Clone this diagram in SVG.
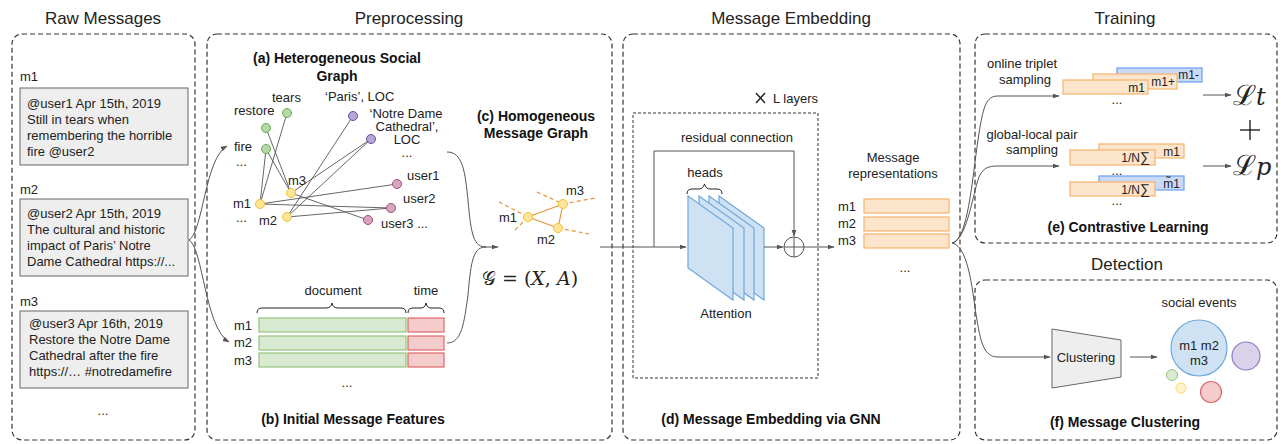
<svg xmlns="http://www.w3.org/2000/svg" width="1281" height="444" viewBox="0 0 1281 444">
<defs>
<marker id="ah" viewBox="0 0 10 10" refX="9" refY="5" markerWidth="7" markerHeight="7" orient="auto" markerUnits="userSpaceOnUse">
<path d="M0,1.5 L10,5 L0,8.5 z" fill="#555"/>
</marker>
<style>
text{font-family:"Liberation Sans",Arial,sans-serif;fill:#222;}
.h{font-size:17px;text-anchor:middle;}
.t{font-size:13px;}
.c{font-size:13px;text-anchor:middle;}
.s{font-size:12px;}
.b{font-size:14px;font-weight:bold;text-anchor:middle;fill:#111;}
.panel{fill:none;stroke:#333;stroke-width:1.2;stroke-dasharray:5,3;}
.msg{fill:#eeeeee;stroke:#666;stroke-width:1;}
.con{fill:none;stroke:#555;stroke-width:1;}
.arr{fill:none;stroke:#555;stroke-width:1;marker-end:url(#ah);}
.e{stroke:#555;stroke-width:0.9;}
.ng{fill:#b6d7a8;stroke:#6aa84f;stroke-width:1;}
.np{fill:#b4a7d6;stroke:#674ea7;stroke-width:1;}
.ny{fill:#ffe599;stroke:#f1c232;stroke-width:1;}
.nk{fill:#d5a6bd;stroke:#a64d79;stroke-width:1;}
.doc{fill:#d9ead3;stroke:#93c47d;stroke-width:1.2;}
.tim{fill:#f4cccc;stroke:#e06666;stroke-width:1.2;}
.rep{fill:#fce5cd;stroke:#f6b26b;stroke-width:1.2;}
.blu{fill:#c9daf8;stroke:#6d9eeb;stroke-width:1.2;}
.slab{fill:#cfe2f3;stroke:#6fa8dc;stroke-width:1.2;}
.brace{fill:none;stroke:#222;stroke-width:1;}
.oe{stroke:#e69138;stroke-width:1.2;}
.od{stroke:#e69138;stroke-width:1.2;stroke-dasharray:4,3;}
.m{font-family:"DejaVu Serif","Liberation Serif",serif;}
</style>
</defs>

<!-- section titles -->
<g id="titles">
<text class="h" x="103" y="24">Raw Messages</text>
<text class="h" x="409" y="24">Preprocessing</text>
<text class="h" x="791" y="24">Message Embedding</text>
<text class="h" x="1125" y="24">Training</text>
<text class="h" x="1127" y="270">Detection</text>
</g>

<!-- panels -->
<g id="panels">
<rect class="panel" x="12" y="34" width="183" height="406" rx="10"/>
<rect class="panel" x="207" y="34" width="405" height="406" rx="10"/>
<rect class="panel" x="623" y="34" width="337" height="406" rx="10"/>
<rect class="panel" x="975" y="34" width="302" height="209" rx="10"/>
<rect class="panel" x="975" y="280" width="302" height="160" rx="10"/>
</g>

<!-- raw messages -->
<g id="raw-m1">
<text class="t" x="20" y="81">m1</text>
<rect class="msg" x="20" y="88" width="168" height="77"/>
<text class="t" x="27" y="108">@user1 Apr 15th, 2019</text>
<text class="t" x="27" y="124">Still in tears when</text>
<text class="t" x="27" y="140">remembering the horrible</text>
<text class="t" x="27" y="156">fire @user2</text>
</g>
<g id="raw-m2">
<text class="t" x="20" y="194">m2</text>
<rect class="msg" x="20" y="199" width="168" height="77"/>
<text class="t" x="27" y="218">@user2 Apr 15th, 2019</text>
<text class="t" x="27" y="234">The cultural and historic</text>
<text class="t" x="27" y="250">impact of Paris’ Notre</text>
<text class="t" x="27" y="266">Dame Cathedral https://...</text>
</g>
<g id="raw-m3">
<text class="t" x="20" y="306">m3</text>
<rect class="msg" x="20" y="311" width="168" height="77"/>
<text class="t" x="29" y="328">@user3 Apr 16th, 2019</text>
<text class="t" x="29" y="344">Restore the Notre Dame</text>
<text class="t" x="29" y="360">Cathedral after the fire</text>
<text class="t" x="29" y="376">https://…  #notredamefire</text>
<text class="c" x="103" y="415">...</text>
</g>

<!-- heterogeneous social graph -->
<g id="hetero-graph">
<text class="b" x="337" y="63" font-size="14.5">(a) Heterogeneous Social</text>
<text class="b" x="337" y="81" font-size="14.5">Graph</text>
<line class="e" x1="287" y1="113" x2="260" y2="204"/>
<line class="e" x1="266" y1="128" x2="291" y2="193"/>
<line class="e" x1="266" y1="149" x2="260" y2="204"/>
<line class="e" x1="266" y1="149" x2="291" y2="193"/>
<line class="e" x1="353" y1="116" x2="287" y2="217"/>
<line class="e" x1="371" y1="139" x2="291" y2="193"/>
<line class="e" x1="371" y1="139" x2="287" y2="217"/>
<line class="e" x1="260" y1="204" x2="397" y2="184"/>
<line class="e" x1="260" y1="204" x2="391" y2="208"/>
<line class="e" x1="287" y1="217" x2="391" y2="208"/>
<line class="e" x1="291" y1="193" x2="368" y2="220"/>
<circle class="ng" cx="287" cy="113" r="4.5"/>
<circle class="ng" cx="266" cy="128" r="4.5"/>
<circle class="ng" cx="266" cy="149" r="4.5"/>
<circle class="np" cx="353" cy="116" r="4.5"/>
<circle class="np" cx="371" cy="139" r="4.5"/>
<circle class="ny" cx="291" cy="193" r="4.5"/>
<circle class="ny" cx="260" cy="204" r="4.5"/>
<circle class="ny" cx="287" cy="217" r="4.5"/>
<circle class="nk" cx="397" cy="184" r="4.5"/>
<circle class="nk" cx="391" cy="208" r="4.5"/>
<circle class="nk" cx="368" cy="220" r="4.5"/>
<text class="t" x="272" y="102">tears</text>
<text class="t" x="234" y="115">restore</text>
<text class="t" x="325" y="101">‘Paris’, LOC</text>
<text class="c" x="406" y="118">‘Notre Dame</text>
<text class="c" x="407" y="131">Cathedral’,</text>
<text class="c" x="407" y="144">LOC</text>
<text class="c" x="407" y="157">...</text>
<text class="t" x="234" y="151">fire</text>
<text class="t" x="236" y="166">...</text>
<text class="t" x="288" y="185">m3</text>
<text class="t" x="233" y="208">m1</text>
<text class="t" x="236" y="222">...</text>
<text class="t" x="259" y="225">m2</text>
<text class="t" x="407" y="180">user1</text>
<text class="t" x="403" y="203">user2</text>
<text class="t" x="381" y="228">user3  ...</text>
</g>

<!-- initial message features -->
<g id="features">
<text class="c" x="333" y="295">document</text>
<text class="c" x="426" y="295">time</text>
<path class="brace" d="M257,313 Q257,308 262,308 L326,308 Q331,308 332,303 Q333,308 338,308 L401,308 Q406,308 406,313"/>
<path class="brace" d="M408,313 Q408,308 413,308 L421,308 Q425,308 426,303 Q427,308 431,308 L439,308 Q444,308 444,313"/>
<text class="t" x="234" y="330">m1</text>
<text class="t" x="234" y="347">m2</text>
<text class="t" x="234" y="365">m3</text>
<rect class="doc" x="259" y="318" width="147" height="14"/>
<rect class="doc" x="259" y="336" width="147" height="14"/>
<rect class="doc" x="259" y="353" width="147" height="14"/>
<rect class="tim" x="408" y="318" width="36" height="14"/>
<rect class="tim" x="408" y="336" width="36" height="14"/>
<rect class="tim" x="408" y="353" width="36" height="14"/>
<text class="c" x="347" y="387">...</text>
<text class="b" x="353" y="424">(b) Initial Message Features</text>
</g>

<!-- homogeneous message graph -->
<g id="homo-graph">
<text class="b" x="536" y="121">(c) Homogeneous</text>
<text class="b" x="536" y="138">Message Graph</text>
<line class="od" x1="499" y1="202" x2="528" y2="217"/>
<line class="od" x1="515" y1="230" x2="528" y2="217"/>
<line class="od" x1="537" y1="192" x2="563" y2="204"/>
<line class="od" x1="563" y1="204" x2="595" y2="198"/>
<line class="od" x1="558" y1="228" x2="589" y2="234"/>
<line class="oe" x1="528" y1="217" x2="563" y2="204"/>
<line class="oe" x1="528" y1="217" x2="558" y2="228"/>
<line class="oe" x1="563" y1="204" x2="558" y2="228"/>
<circle class="ny" cx="528" cy="217" r="4.5"/>
<circle class="ny" cx="563" cy="204" r="4.5"/>
<circle class="ny" cx="558" cy="228" r="4.5"/>
<text class="t" x="499" y="222">m1</text>
<text class="t" x="566" y="195">m3</text>
<text class="t" x="537" y="244">m2</text>
<text class="m" x="530" y="285" font-size="19" text-anchor="middle">𝒢 = (<tspan font-style="italic">X</tspan>, <tspan font-style="italic">A</tspan>)</text>
</g>

<!-- GNN embedding -->
<g id="gnn-layer">
<rect x="633" y="113" width="185" height="265" fill="none" stroke="#333" stroke-width="1" stroke-dasharray="3,2"/>
<path d="M756,93 L765,103 M765,93 L756,103" stroke="#222" stroke-width="1.4" fill="none"/>
<text class="t" x="773" y="103">L layers</text>
<text class="c" x="737" y="142">residual connection</text>
<text class="c" x="705" y="177">heads</text>
<path class="brace" d="M687,194 Q687,189 692,189 L699,189 Q703,189 704.5,184 Q706,189 710,189 L717,189 Q722,189 722,194"/>
<polygon class="slab" points="719,196 764,228 764,300 719,268"/>
<polygon class="slab" points="709,196 754,228 754,300 709,268"/>
<polygon class="slab" points="699,196 744,228 744,300 699,268"/>
<polygon class="slab" points="688,196 733,228 733,300 688,268"/>
<text class="c" x="726" y="318">Attention</text>
<circle cx="794" cy="247" r="10" fill="none" stroke="#555" stroke-width="1"/>
<line x1="784" y1="247" x2="804" y2="247" stroke="#555" stroke-width="1"/>
<line x1="794" y1="237" x2="794" y2="257" stroke="#555" stroke-width="1"/>
<text class="b" x="771" y="424">(d) Message Embedding via GNN</text>
</g>

<g id="message-representations">
<text class="c" x="893" y="162">Message</text>
<text class="c" x="893" y="178">representations</text>
<text class="t" x="838" y="211">m1</text>
<text class="t" x="838" y="228">m2</text>
<text class="t" x="838" y="245">m3</text>
<rect class="rep" x="864" y="199" width="85" height="14"/>
<rect class="rep" x="864" y="217" width="85" height="14"/>
<rect class="rep" x="864" y="234" width="85" height="14"/>
<text class="c" x="905" y="272">...</text>
</g>

<!-- contrastive learning -->
<g id="contrastive">
<text class="c" x="1022" y="68">online triplet</text>
<text class="c" x="1025" y="84">sampling</text>
<rect class="blu" x="1117" y="68" width="85" height="14"/>
<text class="s" x="1199" y="79" text-anchor="end">m1-</text>
<rect class="rep" x="1093" y="74" width="84" height="15"/>
<text class="s" x="1175" y="86" text-anchor="end">m1+</text>
<rect class="rep" x="1063" y="80" width="85" height="14"/>
<text class="s" x="1145" y="92" text-anchor="end">m1</text>
<text class="c" x="1117" y="104">...</text>

<text class="c" x="1032" y="139">global-local pair</text>
<text class="c" x="1032" y="154">sampling</text>
<rect class="rep" x="1099" y="144" width="85" height="14"/>
<text class="s" x="1180" y="156" text-anchor="end">m1</text>
<rect class="rep" x="1070" y="150" width="85" height="15"/>
<text class="s" x="1150" y="162" text-anchor="end">1/N<tspan font-size="14">∑</tspan></text>
<text class="c" x="1117" y="175">...</text>
<rect class="blu" x="1099" y="176" width="85" height="14"/>
<text class="s" x="1180" y="188" text-anchor="end">m̃1</text>
<rect class="rep" x="1070" y="182" width="85" height="14"/>
<text class="s" x="1150" y="194" text-anchor="end">1/N<tspan font-size="14">∑</tspan></text>
<text class="c" x="1117" y="205">...</text>

<line class="arr" x1="1203" y1="95" x2="1231" y2="95"/>
<line class="arr" x1="1203" y1="166" x2="1231" y2="166"/>
<text class="m" x="1233" y="105" font-size="28">ℒ<tspan font-size="24" font-style="italic">t</tspan></text>
<line x1="1240" y1="130" x2="1260" y2="130" stroke="#111" stroke-width="1.3"/>
<line x1="1250" y1="120" x2="1250" y2="140" stroke="#111" stroke-width="1.3"/>
<text class="m" x="1233" y="175" font-size="28">ℒ<tspan font-size="24" font-style="italic">p</tspan></text>
<text class="b" x="1128" y="232">(e) Contrastive Learning</text>
</g>

<!-- message clustering -->
<g id="clustering">
<polygon points="1052,329 1121,340 1121,377 1052,388" fill="#eeeeee" stroke="#666" stroke-width="1"/>
<text class="c" x="1086" y="362">Clustering</text>
<line class="arr" x1="1130" y1="357" x2="1157" y2="357"/>
<text class="c" x="1199" y="307">social events</text>
<circle cx="1199" cy="348" r="28" fill="#cfe2f3" stroke="#6fa8dc" stroke-width="1.2"/>
<text class="c" x="1199" y="350">m1 m2</text>
<text class="c" x="1199" y="365">m3</text>
<circle cx="1246" cy="356" r="14" fill="#d9d2e9" stroke="#8e7cc3" stroke-width="1.2"/>
<circle cx="1172" cy="375" r="5.5" fill="#d9ead3" stroke="#93c47d" stroke-width="1"/>
<circle cx="1181" cy="388" r="5" fill="#fff2cc" stroke="#ffd966" stroke-width="1"/>
<circle cx="1211" cy="392" r="10.5" fill="#f4cccc" stroke="#e06666" stroke-width="1.2"/>
<text class="b" x="1125" y="427">(f) Message Clustering</text>
</g>

<!-- connectors -->
<g id="connectors">
<path class="arr" d="M189,240 C203,232 205,158 227,146"/>
<path class="arr" d="M189,240 C203,248 205,328 229,342"/>
<path class="con" d="M447,152 C463,152 465,172 468,200 C471,236 474,247 486,247"/>
<path class="con" d="M447,343 C462,343 464,323 468,295 C471,258 474,247 486,247"/>
<line class="arr" x1="484" y1="247" x2="498" y2="247"/>
<line class="arr" x1="600" y1="247" x2="686" y2="247"/>
<path class="arr" d="M654,247 L654,151 L794,151 L794,236"/>
<line class="arr" x1="764" y1="247" x2="783" y2="247"/>
<line class="arr" x1="804" y1="247" x2="834" y2="247"/>
<path class="arr" d="M952,243 C968,240 972,180 978,140 C983,106 986,96 998,96 L1059,96"/>
<path class="arr" d="M952,243 C968,240 974,185 980,175 C984,168 988,166 998,166 L1059,166"/>
<path class="arr" d="M952,243 C970,246 973,300 977,320 C981,345 985,357 998,357 L1050,357"/>
</g>
</svg>
